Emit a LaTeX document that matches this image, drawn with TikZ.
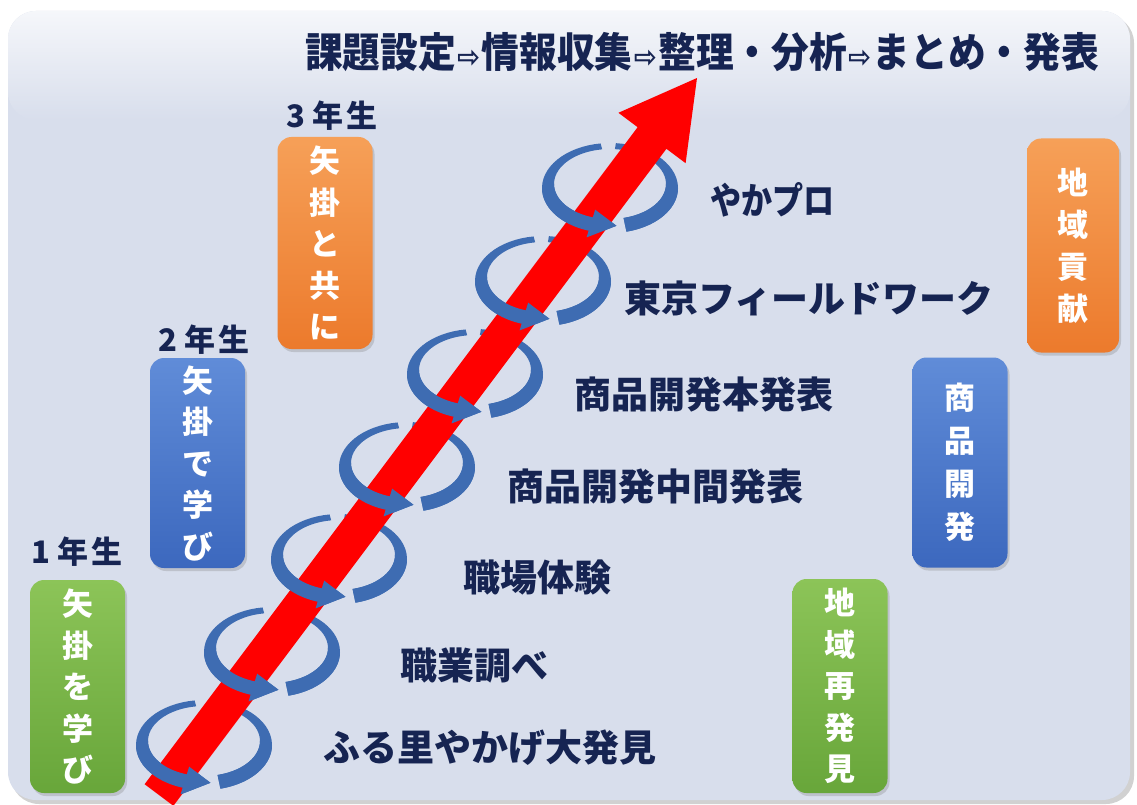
\documentclass[tikz,border=0pt]{standalone}
\usepackage{fontspec}
\setmainfont{Noto Sans CJK JP}
\newfontfamily\arrfont{DejaVu Sans}
\usetikzlibrary{shadows}
\definecolor{bg}{RGB}{216,222,236}
\definecolor{navy}{RGB}{22,36,82}
\definecolor{ringblue}{RGB}{62,108,178}
\definecolor{gbase}{RGB}{104,166,58}
\definecolor{glight}{RGB}{140,196,88}
\definecolor{bbase}{RGB}{60,104,190}
\definecolor{blight}{RGB}{96,140,216}
\definecolor{obase}{RGB}{236,122,44}
\definecolor{olight}{RGB}{246,160,88}
\newcommand\ringseg[4]{\fill[ringblue] plot[domain=#3:#4,samples=30,variable=\t] ({#1+68*cos(\t)},{#2-45*sin(\t)}) -- plot[domain=#4:#3,samples=30,variable=\t] ({#1+56*cos(\t)},{#2-4-35*sin(\t)}) -- cycle;}
\newcommand\ringtip[2]{\fill[ringblue] ({#1+76*cos(252)},{#2-52*sin(252)}) -- ({#1+62*cos(276)},{#2-2-40*sin(276)}) -- ({#1+48*cos(252)},{#2-4-27*sin(252)}) -- cycle;}
\newcommand\ringfull[2]{\ringseg{#1}{#2}{98}{254}\ringtip{#1}{#2}\ringseg{#1}{#2}{284}{445}}
\newcommand\ringfront[2]{\ringseg{#1}{#2}{180}{254}\ringtip{#1}{#2}\ringseg{#1}{#2}{284}{360}}
\newcommand\titlearrow{\makebox[28pt]{\arrfont\fontsize{30}{30}\selectfont ⇨}}
\begin{document}
\begin{tikzpicture}[x=1pt,y=-1pt,
  yearlbl/.style={text=navy,font=\fontsize{31}{31}\selectfont\bfseries,inner sep=0pt},
  steplbl/.style={text=navy,font=\fontsize{37}{37}\selectfont\bfseries,inner sep=0pt,anchor=west},
  vbox/.style={rounded corners=14pt,minimum width=95pt,text=white,align=center,inner sep=0pt,
    font=\fontsize{31}{41.5}\selectfont\bfseries,
    drop shadow={opacity=0.3,shadow xshift=2pt,shadow yshift=-3pt}},
  gbox/.style={vbox,top color=glight,bottom color=gbase},
  bbox/.style={vbox,top color=blight,bottom color=bbase},
  obox/.style={vbox,top color=olight,bottom color=obase}]
\useasboundingbox (0,0) rectangle (1137,805);
\fill[white] (0,0) rectangle (1137,805);
% frame
\fill[black!18,rounded corners=28pt] (11,15) rectangle (1134,804);
\fill[bg,rounded corners=28pt] (8,11) rectangle (1130,800);
\shade[rounded corners=28pt,top color=white!75!bg,bottom color=bg] (8,11) rectangle (1130,120);
% title
\node[text=navy,xscale=0.92,inner sep=0pt,font=\fontsize{41}{41}\selectfont\bfseries] (title) at (702,52)
  {課題設定\titlearrow 情報収集\titlearrow 整理・分析\titlearrow まとめ・発表};
% rings (full)
\ringfull{204}{745}
\ringfull{272}{652}
\ringfull{339}{559}
\ringfull{407}{467}
\ringfull{475}{374}
\ringfull{543}{281}
\ringfull{610}{188}
% red arrow
\coordinate (tail) at (159,795);
\coordinate (tip) at (697,78);
\fill[red] (144.6,784.2) -- (637.6,127.2) -- (618.4,112.8) -- (tip) -- (685.6,163.2) -- (666.4,148.8) -- (173.4,805.8) -- cycle;
% ring fronts
\ringfront{204}{745}
\ringfront{272}{652}
\ringfront{339}{559}
\ringfront{407}{467}
\ringfront{475}{374}
\ringfront{543}{281}
\ringfront{610}{188}
% step labels
\node[steplbl,xscale=0.84] (s7) at (710,200) {やかプロ};
\node[steplbl] (s6) at (624,298) {東京フィールドワーク};
\node[steplbl] (s5) at (574,395) {商品開発本発表};
\node[steplbl] (s4) at (507,487) {商品開発中間発表};
\node[steplbl] (s3) at (463,578) {職場体験};
\node[steplbl] (s2) at (400,665) {職業調べ};
\node[steplbl] (s1) at (323,748) {ふる里やかげ大発見};
% year labels
\node[yearlbl] (y3) at (332,116) {3\hspace{7pt}年\hspace{3pt}生};
\node[yearlbl] (y2) at (204,340) {2\hspace{7pt}年\hspace{3pt}生};
\node[yearlbl] (y1) at (77,552) {1\hspace{7pt}年\hspace{3pt}生};
% boxes
\node[gbox,minimum height=213pt] (b1) at (77.5,686.5) {矢\\掛\\を\\学\\び};
\node[bbox,minimum height=210pt] (b2) at (197.5,463) {矢\\掛\\で\\学\\び};
\node[obox,minimum height=212pt] (b3) at (325,243) {矢\\掛\\と\\共\\に};
\node[gbox,minimum height=214pt] (b4) at (840,686) {地\\域\\再\\発\\見};
\node[bbox,minimum height=210pt,font=\fontsize{31}{43}\selectfont\bfseries] (b5) at (960,462.5) {商\\品\\開\\発};
\node[obox,minimum height=214pt,minimum width=92pt,font=\fontsize{31}{42}\selectfont\bfseries] (b6) at (1073,245.5) {地\\域\\貢\\献};
\end{tikzpicture}
\end{document}
